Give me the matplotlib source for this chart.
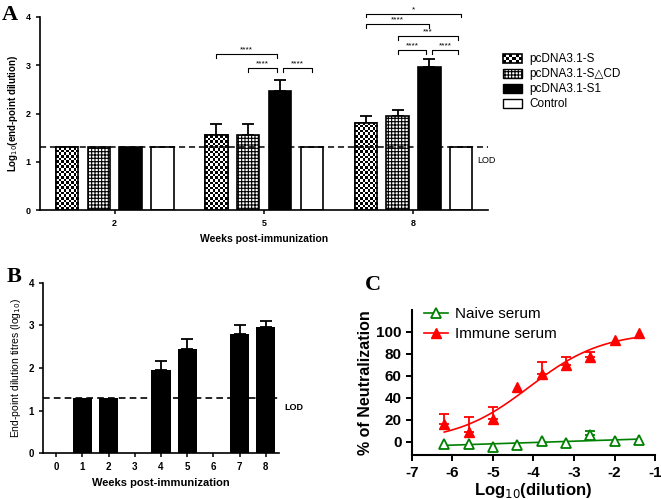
import matplotlib
matplotlib.use('Agg')
import matplotlib.pyplot as plt
from matplotlib.patches import Patch, Rectangle
from matplotlib.lines import Line2D
from matplotlib.legend_handler import HandlerBase
import numpy as np

plt.rcParams['font.family'] = ['Liberation Sans', 'DejaVu Sans']
plt.rcParams['hatch.linewidth'] = 0.8
plt.rcParams['axes.linewidth'] = 1.2
plt.rcParams['axes.unicode_minus'] = False

# ---- panel A data
weeks_a = ['2', '5', '8']
groups = ['pcDNA3.1-S', 'pcDNA3.1-S\u25b3CD', 'pcDNA3.1-S1', 'Control']
vals_s = [1.3, 1.55, 1.81]
err_s = [0, 0.23, 0.14]
vals_dcd = [1.3, 1.55, 1.95]
err_dcd = [0, 0.23, 0.12]
vals_s1 = [1.3, 2.47, 2.97]
err_s1 = [0, 0.22, 0.15]
vals_ctrl = [1.3, 1.3, 1.3]
err_ctrl = [0, 0, 0]
lod = 1.3

# ---- panel B data
weeks_b = [1, 2, 4, 5, 7, 8]
titres_b = [1.3, 1.3, 1.95, 2.45, 2.81, 2.96]
err_b = [0, 0, 0.22, 0.23, 0.19, 0.15]

# ---- panel C data
log_dil = [-6.2, -5.6, -5.0, -4.4, -3.8, -3.2, -2.6, -2.0, -1.4]
immune = [16, 9, 20.5, 49.5, 62, 70, 77, 92.5, 99]
immune_err = [9, 13.5, 11, 0, 11, 7, 5, 0, 0]
naive = [-1.5, -1.5, -5, -3, 0.6, -0.6, 6, 0.6, 1.5]
naive_err = [0, 0, 0, 0, 0, 0, 4, 0, 0]

fig = plt.figure(figsize=(6.61, 4.99), dpi=100)


class HandlerChecker(HandlerBase):
    # legend swatch drawn as small black/white squares
    def create_artists(self, legend, orig, xd, yd, width, height, fontsize,
                       trans):
        arts = [Rectangle((-xd, -yd), width, height, facecolor='white',
                          edgecolor='none', transform=trans)]
        n = 6
        m = 3
        cw = width / n
        ch = height / m
        for i in range(n):
            for j in range(m):
                if (i + j) % 2 == 0:
                    arts.append(Rectangle((-xd + i * cw, -yd + j * ch), cw, ch,
                                          facecolor='black', edgecolor='none',
                                          transform=trans))
        arts.append(Rectangle((-xd, -yd), width, height, facecolor='none',
                              edgecolor='black', lw=1.2, transform=trans))
        return arts


# =================== A ===================
axA = fig.add_axes([0.0605, 0.579, 0.678, 0.387])
x = np.arange(len(weeks_a))
w = 0.15
off = 0.213
axA.set_xlim(-0.5, 2.5)
axA.set_ylim(0, 4)
series = [(vals_s, err_s, 'white', None),
          (vals_dcd, err_dcd, 'white', '+++++'),
          (vals_s1, err_s1, 'black', None),
          (vals_ctrl, err_ctrl, 'white', None)]
bars = []
for i, (v, e, fc, h) in enumerate(series):
    pos = x + (i - 1.5) * off
    b = axA.bar(pos, v, w, color=fc, edgecolor='black', hatch=h,
                linewidth=1.2, zorder=2)
    bars.append(b)
    ee = np.array(e, dtype=float)
    m = ee > 0
    axA.errorbar(pos[m], np.array(v)[m], yerr=[np.zeros(m.sum()), ee[m]],
                 fmt='none', ecolor='black', elinewidth=1.3, capsize=4,
                 capthick=1.3, zorder=1)

# checkerboard fill for the first series
px_x = axA.transData.transform((1, 0))[0] - axA.transData.transform((0, 0))[0]
px_y = axA.transData.transform((0, 1))[1] - axA.transData.transform((0, 0))[1]
cell = 2.6
for r in bars[0]:
    bx, bw, bh = r.get_x(), r.get_width(), r.get_height()
    nx = max(1, int(round(bw * px_x / cell)))
    ny = max(1, int(round(bh * px_y / cell)))
    jj, ii = np.indices((ny, nx))
    board = ((ii + jj) % 2).astype(float)
    im = axA.imshow(board, cmap='gray', vmin=0, vmax=1, aspect='auto',
                    interpolation='nearest', origin='lower',
                    extent=(bx, bx + bw, 0, bh), zorder=2.5)
    im.set_clip_path(r)
    axA.bar(r.get_x() + bw / 2, bh, bw, color='none', edgecolor='black',
            linewidth=1.2, zorder=2.6)

axA.axhline(lod, color='black', ls=(0, (4, 2.5)), lw=1.1, zorder=3)
axA.set_xlim(-0.5, 2.5)
axA.set_ylim(0, 4)
axA.set_xticks(x)
axA.set_xticklabels(weeks_a)
axA.set_yticks([0, 1, 2, 3, 4])
axA.spines['top'].set_visible(False)
axA.spines['right'].set_visible(False)
axA.tick_params(labelsize=6.5, width=1.1, length=3)
plt.setp(axA.get_xticklabels() + axA.get_yticklabels(), fontweight='bold')
axA.set_xlabel('Weeks post-immunization', fontsize=7.5, fontweight='bold')
axA.set_ylabel('Log$_{10}$(end-point dilution)', fontsize=7, fontweight='bold',
               labelpad=4)
axA.text(2.43, 1.02, 'LOD', fontsize=6.5, va='center')


def centre(g, k):
    r = bars[g][k]
    return r.get_x() + r.get_width() / 2


def bracket(ax, x1, x2, y, label):
    ax.plot([x1, x1, x2, x2], [y - 0.07, y, y, y - 0.07], color='black',
            lw=0.8, clip_on=False)
    ax.text((x1 + x2) / 2, y + 0.02, label, ha='center', va='bottom',
            fontsize=6, clip_on=False)


d = 0.02
bracket(axA, centre(0, 1), centre(2, 1) - d, 3.23, '****')
bracket(axA, centre(1, 1), centre(2, 1) - d, 2.94, '****')
bracket(axA, centre(2, 1) + d, centre(3, 1), 2.94, '****')
bracket(axA, centre(0, 2), centre(3, 2), 4.06, '*')
bracket(axA, centre(0, 2), centre(2, 2), 3.85, '****')
bracket(axA, centre(1, 2), centre(3, 2) - d, 3.6, '***')
bracket(axA, centre(1, 2), centre(2, 2) - d, 3.31, '****')
bracket(axA, centre(2, 2) + d, centre(3, 2) - d, 3.31, '****')

checker_h = Patch(facecolor='white', edgecolor='black')
handles = [checker_h,
           Patch(facecolor='white', edgecolor='black', hatch='+++++'),
           Patch(facecolor='black', edgecolor='black'),
           Patch(facecolor='white', edgecolor='black')]
fig.legend(handles, groups, loc='upper left', bbox_to_anchor=(0.761, 0.893),
           frameon=False, fontsize=8.5, handlelength=1.6, handleheight=0.8,
           labelspacing=0.25, handletextpad=0.6, borderaxespad=0,
           borderpad=0, handler_map={checker_h: HandlerChecker()})

fig.text(0.002, 0.97, 'A', family='Liberation Serif', fontweight='bold',
         fontsize=16, va='center')

# =================== B ===================
axB = fig.add_axes([0.065, 0.092, 0.357, 0.341])
axB.bar(weeks_b, titres_b, 0.73, color='black', zorder=2)
eb = np.array(err_b)
mb = eb > 0
axB.errorbar(np.array(weeks_b)[mb], np.array(titres_b)[mb],
             yerr=[np.zeros(mb.sum()), eb[mb]], fmt='none', ecolor='black',
             elinewidth=1.3, capsize=4, capthick=1.3, zorder=1)
axB.axhline(lod, color='black', ls=(0, (4, 2.5)), lw=1.2, zorder=3)
axB.set_xlim(-0.5, 8.5)
axB.set_ylim(0, 4)
axB.set_xticks(range(9))
axB.set_yticks([0, 1, 2, 3, 4])
axB.spines['top'].set_visible(False)
axB.spines['right'].set_visible(False)
axB.tick_params(labelsize=7, width=1.1, length=3)
plt.setp(axB.get_xticklabels() + axB.get_yticklabels(), fontweight='bold')
axB.set_xlabel('Weeks post-immunization', fontsize=8, fontweight='bold')
axB.set_ylabel('End-point dilution titres (log$_{10}$)', fontsize=7.5)
axB.text(8.7, 1.08, 'LOD', fontsize=6.5, fontweight='bold', va='center',
         clip_on=False)
fig.text(0.01, 0.445, 'B', family='Liberation Serif', fontweight='bold',
         fontsize=16, va='center')

# =================== C ===================
axC = fig.add_axes([0.623, 0.088, 0.368, 0.291])
xd = np.array(log_dil)


def logistic(xx, ec, h):
    return 100.0 / (1 + 10 ** ((ec - xx) * h))


# simple least-squares fit of the immune curve on a grid
best = None
for ec in np.linspace(-6, -2, 201):
    for h in np.linspace(0.2, 1.5, 131):
        sse = np.sum((logistic(xd, ec, h) - np.array(immune)) ** 2)
        if best is None or sse < best[0]:
            best = (sse, ec, h)
xf = np.linspace(xd.min(), xd.max(), 200)
axC.plot(xf, logistic(xf, best[1], best[2]), color='red', lw=1.2)
p = np.polyfit(xd, naive, 1)
axC.plot(xf, np.polyval(p, xf), color='green', lw=1.2)

ie = np.array(immune_err)
mi = ie > 0
axC.errorbar(xd[mi], np.array(immune)[mi], yerr=[np.zeros(mi.sum()), ie[mi]],
             fmt='none', ecolor='red', elinewidth=1.3, capsize=3.5,
             capthick=1.3)
ne = np.array(naive_err)
mn = ne > 0
axC.errorbar(xd[mn], np.array(naive)[mn], yerr=[np.zeros(mn.sum()), ne[mn]],
             fmt='none', ecolor='green', elinewidth=1.3, capsize=3.5,
             capthick=1.3)
axC.plot(xd, immune, '^', color='red', ms=7, zorder=4)
axC.plot(xd, naive, '^', mfc='white', mec='green', mew=1.3, ms=7, zorder=4)

axC.set_xlim(-7, -1)
axC.set_ylim(-12, 120)
axC.set_xticks(range(-7, 0))
axC.set_yticks(range(0, 101, 20))
axC.spines['top'].set_visible(False)
axC.spines['right'].set_visible(False)
axC.spines['left'].set_linewidth(1.5)
axC.spines['bottom'].set_linewidth(1.5)
axC.tick_params(labelsize=11, width=1.4, length=4)
plt.setp(axC.get_xticklabels() + axC.get_yticklabels(), fontweight='bold')
axC.set_xlabel('Log$_{10}$(dilution)', fontsize=12, fontweight='bold',
               labelpad=1)
axC.set_ylabel('% of Neutralization', fontsize=11.5, fontweight='bold',
               labelpad=2)
leg_h = [Line2D([], [], color='green', marker='^', mfc='white', mec='green',
                mew=1.3, ms=7, lw=1.2),
         Line2D([], [], color='red', marker='^', ms=7, lw=1.2)]
axC.legend(leg_h, ['Naive serum', 'Immune serum'], loc='upper left',
           bbox_to_anchor=(0.05, 1.02), frameon=False, fontsize=11,
           handlelength=1.6, labelspacing=0.4, handletextpad=0.4,
           borderaxespad=0, borderpad=0)
fig.text(0.552, 0.429, 'C', family='Liberation Serif', fontweight='bold',
         fontsize=16, va='center')

fig.savefig('out.png', dpi=100)
